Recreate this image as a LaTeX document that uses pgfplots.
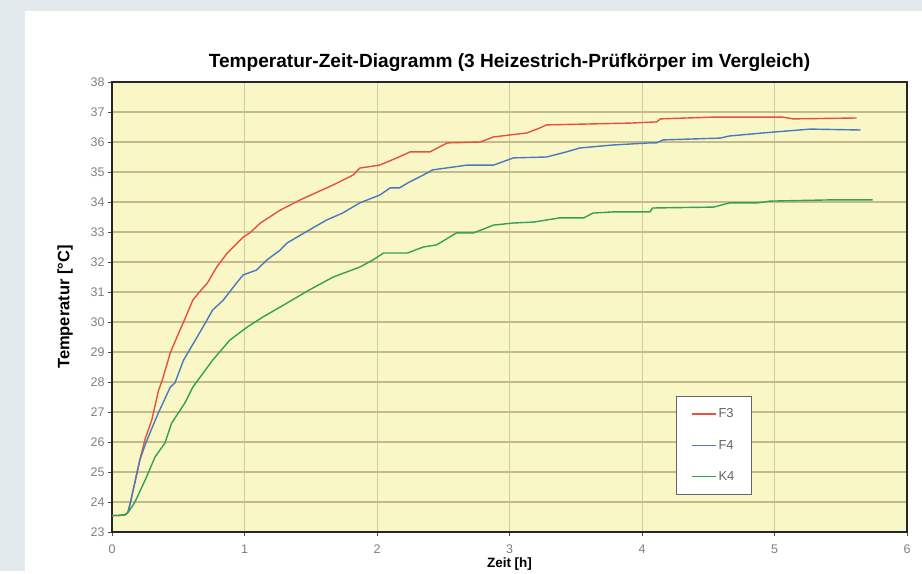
\documentclass[border=0pt]{standalone}
\usepackage{pgfplots}
\pgfplotsset{compat=1.18}
\usepackage{fontspec}
\setmainfont{Liberation Sans}
\definecolor{outerbg}{RGB}{227,234,238}
\definecolor{plotbg}{RGB}{250,247,198}
\definecolor{hgrid}{RGB}{196,186,140}
\definecolor{vgrid}{RGB}{205,205,160}
\definecolor{cF3}{RGB}{228,82,62}
\definecolor{cF4}{RGB}{72,122,190}
\definecolor{cK4}{RGB}{52,160,88}
\begin{document}
\begin{tikzpicture}[x=1pt,y=1pt]
\fill[outerbg] (0,0) rectangle (922,571);
\fill[white] (25,0) rectangle (922,560);
\begin{axis}[
  at={(112pt,39pt)}, anchor=south west,
  scale only axis, width=795pt, height=450pt,
  xmin=0, xmax=6, ymin=23, ymax=38,
  xtick={0,1,2,3,4,5,6}, ytick={23,24,...,38},
  axis background/.style={fill=plotbg},
  xmajorgrids, ymajorgrids,
  x grid style={vgrid, line width=0.8pt},
  y grid style={hgrid, line width=1.2pt},
  axis line style={draw=black!85, line width=1.3pt},
  tick align=outside, xtick pos=left, ytick pos=left,
  major tick length=4pt,
  tick style={draw=black!70, line width=0.8pt},
  /pgf/number format/assume math mode=true,
  ticklabel style={font=\fontsize{12.5}{14}\selectfont, text=black!50},
  xticklabel style={yshift=-5pt},
  title={Temperatur-Zeit-Diagramm (3 Heizestrich-Prüfkörper im Vergleich)},
  title style={font=\bfseries\fontsize{19.1}{22}\selectfont, yshift=1pt},
  ylabel={Temperatur [°C]},
  xlabel={Zeit [h]},
  every axis y label/.style={at={(axis description cs:-0.059,0.5)}, rotate=90, anchor=center, font=\bfseries\fontsize{16.5}{19}\selectfont},
  every axis x label/.style={at={(axis description cs:0.5,-0.071)}, anchor=center, font=\bfseries\fontsize{13.5}{16}\selectfont},
  legend style={at={(0.709,0.302)}, anchor=north west, draw=black!60, line width=0.8pt, fill=white,
    font=\fontsize{13}{15}\selectfont, text=black!60, row sep=17pt, inner xsep=15pt, inner ysep=10pt,
    cells={anchor=west}},
  legend image code/.code={\draw[#1, line width=1.5pt] (0pt,0pt) -- (24pt,0pt);},
]
\addplot[cF3, line width=1.4pt] coordinates {
(0,23.55) (0.05,23.55) (0.10,23.58) (0.12,23.65) (0.14,24.0) (0.17,24.6) (0.21,25.4)
(0.25,26.1) (0.30,26.73) (0.35,27.7) (0.38,28.07) (0.44,28.97) (0.50,29.6) (0.55,30.1)
(0.61,30.73) (0.66,31.0) (0.72,31.3) (0.79,31.83) (0.87,32.3) (0.99,32.83) (1.04,32.97)
(1.12,33.3) (1.19,33.5) (1.27,33.73) (1.42,34.07) (1.55,34.33) (1.67,34.57) (1.82,34.9)
(1.87,35.13) (2.02,35.23) (2.15,35.47) (2.25,35.67) (2.40,35.67) (2.53,35.97) (2.78,36.0)
(2.88,36.17) (3.13,36.3) (3.23,36.47) (3.28,36.57) (3.91,36.63) (4.11,36.67) (4.14,36.77)
(4.54,36.83) (5.06,36.83) (5.14,36.77) (5.62,36.8)
};
\addlegendentry{F3}
\addplot[cF4, line width=1.4pt] coordinates {
(0,23.55) (0.05,23.55) (0.10,23.58) (0.12,23.65) (0.14,24.0) (0.17,24.6) (0.21,25.4)
(0.25,25.9) (0.30,26.45) (0.35,26.97) (0.44,27.83) (0.475,27.97) (0.54,28.73) (0.66,29.63)
(0.76,30.4) (0.84,30.73) (0.94,31.3) (0.99,31.57) (1.09,31.73) (1.17,32.07) (1.27,32.4)
(1.32,32.63) (1.49,33.07) (1.62,33.4) (1.74,33.63) (1.87,33.97) (2.02,34.23) (2.10,34.47)
(2.17,34.47) (2.23,34.63) (2.35,34.9) (2.42,35.07) (2.68,35.23) (2.88,35.23) (3.03,35.47)
(3.28,35.5) (3.43,35.67) (3.53,35.8) (3.78,35.9) (4.06,35.97) (4.11,35.97) (4.16,36.07)
(4.59,36.13) (4.66,36.2) (4.91,36.3) (4.99,36.33) (5.27,36.43) (5.65,36.4)
};
\addlegendentry{F4}
\addplot[cK4, line width=1.4pt] coordinates {
(0,23.55) (0.05,23.55) (0.10,23.57) (0.12,23.65) (0.17,23.97) (0.25,24.73) (0.325,25.5)
(0.40,25.97) (0.45,26.63) (0.55,27.3) (0.61,27.83) (0.65,28.07) (0.76,28.73) (0.89,29.4)
(1.02,29.83) (1.14,30.17) (1.27,30.5) (1.49,31.07) (1.67,31.5) (1.87,31.83) (1.97,32.07)
(2.05,32.3) (2.23,32.3) (2.35,32.5) (2.45,32.57) (2.60,32.97) (2.73,32.97) (2.88,33.23)
(3.03,33.3) (3.18,33.33) (3.38,33.47) (3.56,33.47) (3.63,33.63) (3.78,33.67) (4.06,33.67)
(4.08,33.8) (4.54,33.83) (4.66,33.97) (4.87,33.97) (4.97,34.03) (5.42,34.07) (5.74,34.07)
};
\addlegendentry{K4}
\end{axis}
\end{tikzpicture}
\end{document}
